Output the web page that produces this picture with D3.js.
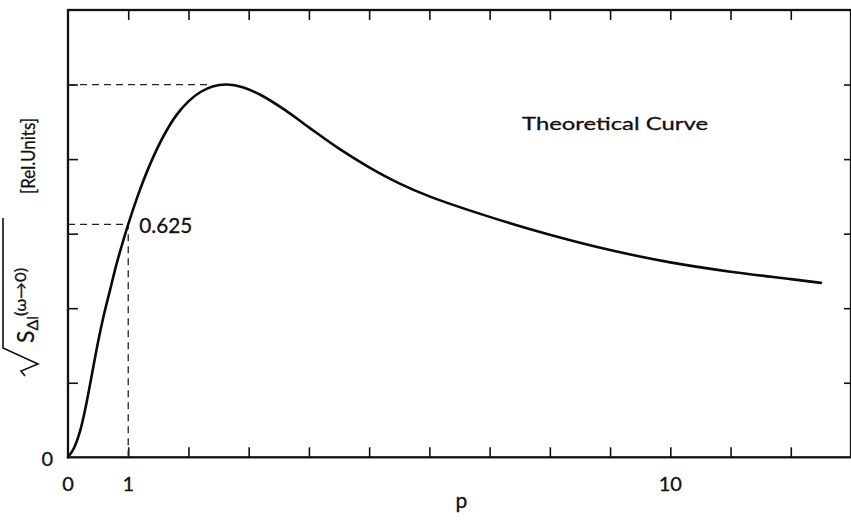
<!DOCTYPE html>
<html lang="en">
<head>
    <meta charset="UTF-8">
    <title>Theoretical Curve</title>
    <script src="https://cdnjs.cloudflare.com/ajax/libs/d3/7.8.0/d3.min.js"></script>
    <style>
        body { margin: 0; background: #fff; }
        svg { display: block; }
        text { font-family: Lato, "DejaVu Sans", sans-serif; fill: #111; stroke: #111; stroke-width: 0.3px; }
    </style>
</head>
<body>

    <svg id="viz" width="851" height="521"></svg>

    <script>
        // curve
        const pVals = [0, 0.1, 0.2, 0.3, 0.4, 0.5, 0.6, 0.7, 0.8, 0.9, 1.0, 1.2, 1.4, 1.6, 1.8, 2.0, 2.2, 2.4, 2.64,
                       2.9, 3.2, 3.6, 4.0, 4.5, 5.0, 5.5, 6.0, 7.0, 8.0, 9.0, 10.0, 11.0, 12.0, 12.5];
        const sVals = [0, 0.025, 0.07, 0.14, 0.225, 0.31, 0.385, 0.45, 0.515, 0.572, 0.625, 0.72, 0.80, 0.866, 0.918, 0.955, 0.98, 0.995, 1.0,
                       0.993, 0.972, 0.932, 0.885, 0.828, 0.778, 0.735, 0.70, 0.645, 0.597, 0.556, 0.523, 0.498, 0.478, 0.468];

        const xTicks = [1, 2, 3, 4, 5, 6, 7, 8, 9, 10, 11, 12];
        const yTicks = [0.2, 0.4, 0.6, 0.8, 1.0];
        const xLabels = [0, 1, 10];
        const yLabels = [0];

        const peak = {p: 2.64, s: 1.0};
        const marked = {p: 1, s: 0.625, label: "0.625"};

        const svg = d3.select('#viz');
        const mLeft = 68, mRight = 851, mTop = 10, mBottom = 457.3;

        const x = d3.scaleLinear().domain([0, 13]).range([mLeft, mRight]);
        const y = d3.scaleLinear().domain([0, 1.2]).range([mBottom, mTop]);

        // inward ticks on all four sides
        const tick = 10;
        svg.append("g").attr("transform", "translate(0," + mBottom + ")")
            .call(d3.axisBottom(x).tickValues(xTicks).tickSize(-tick).tickFormat(""));
        svg.append("g").attr("transform", "translate(0," + mTop + ")")
            .call(d3.axisTop(x).tickValues(xTicks).tickSize(-tick).tickFormat(""));
        svg.append("g").attr("transform", "translate(" + mLeft + ",0)")
            .call(d3.axisLeft(y).tickValues(yTicks).tickSize(-tick).tickFormat(""));
        svg.append("g").attr("transform", "translate(" + mRight + ",0)")
            .call(d3.axisRight(y).tickValues(yTicks).tickSize(-7).tickFormat(""));
        svg.selectAll(".domain").remove();
        svg.selectAll(".tick line").attr("stroke", "#111").attr("stroke-width", 1.6);

        // frame
        svg.append("rect")
            .attr("x", mLeft).attr("y", mTop)
            .attr("width", mRight - mLeft).attr("height", mBottom - mTop)
            .attr("fill", "none").attr("stroke", "#111").attr("stroke-width", 2.3);

        // tick labels
        svg.selectAll(".xl").data(xLabels).enter().append("text")
            .attr("x", d => x(d)).attr("y", 491)
            .attr("text-anchor", "middle").attr("font-size", 20)
            .text(d => d);
        svg.selectAll(".yl").data(yLabels).enter().append("text")
            .attr("x", 53).attr("y", y(0) + 9)
            .attr("text-anchor", "end").attr("font-size", 20)
            .text(d => d);

        // dashed guides
        const dash = "7,5";
        svg.append("line")
            .attr("x1", x(0)).attr("x2", x(peak.p) - 18)
            .attr("y1", y(peak.s)).attr("y2", y(peak.s))
            .attr("stroke", "#222").attr("stroke-width", 1.3).attr("stroke-dasharray", dash);
        svg.append("line")
            .attr("x1", x(0)).attr("x2", x(marked.p))
            .attr("y1", y(marked.s)).attr("y2", y(marked.s))
            .attr("stroke", "#222").attr("stroke-width", 1.3).attr("stroke-dasharray", dash);
        svg.append("line")
            .attr("x1", x(marked.p)).attr("x2", x(marked.p))
            .attr("y1", y(0)).attr("y2", y(marked.s))
            .attr("stroke", "#222").attr("stroke-width", 1.3).attr("stroke-dasharray", dash);

        // curve
        const pts = pVals.map((p, i) => [p, sVals[i]]);
        const line = d3.line().x(d => x(d[0])).y(d => y(d[1])).curve(d3.curveCatmullRom.alpha(0.5));
        svg.append("path").datum(pts)
            .attr("d", line)
            .attr("fill", "none").attr("stroke", "#0a0a0a").attr("stroke-width", 2.6)
            .attr("stroke-linejoin", "round").attr("stroke-linecap", "round");

        svg.append("text")
            .attr("x", x(marked.p) + 11).attr("y", y(marked.s) + 9)
            .attr("font-size", 21).attr("textLength", 53).attr("lengthAdjust", "spacingAndGlyphs")
            .text(marked.label);

        svg.append("text")
            .attr("x", 522).attr("y", 130)
            .attr("font-size", 18).attr("textLength", 186).attr("lengthAdjust", "spacingAndGlyphs")
            .text("Theoretical Curve");

        // axis titles
        svg.append("text")
            .attr("x", (mLeft + mRight) / 2 + 2).attr("y", 508)
            .attr("text-anchor", "middle").attr("font-size", 21)
            .text("p");

        // y title: sqrt(S_Δl(ω→0)) [Rel.Units], rotated
        const yt = svg.append("g").attr("transform", "translate(35,378) rotate(-90)");
        yt.append("path")
            .attr("d", "M2,-10 L7,-14 L14,3 L30,-32 L160,-32")
            .attr("fill", "none").attr("stroke", "#111").attr("stroke-width", 1.6);
        const t1 = yt.append("text").attr("x", 35).attr("y", -1).attr("font-size", 23);
        t1.append("tspan").text("S");
        t1.append("tspan").attr("font-size", 16).attr("dy", 4).text("Δl");
        t1.append("tspan").attr("font-size", 15).attr("dy", -12).attr("textLength", 48)
            .attr("lengthAdjust", "spacingAndGlyphs").text("(ω→0)");
        yt.append("text")
            .attr("x", 184).attr("y", 0).attr("font-size", 20)
            .attr("textLength", 76).attr("lengthAdjust", "spacingAndGlyphs")
            .text("[Rel.Units]");
    </script>
</body>
</html>
